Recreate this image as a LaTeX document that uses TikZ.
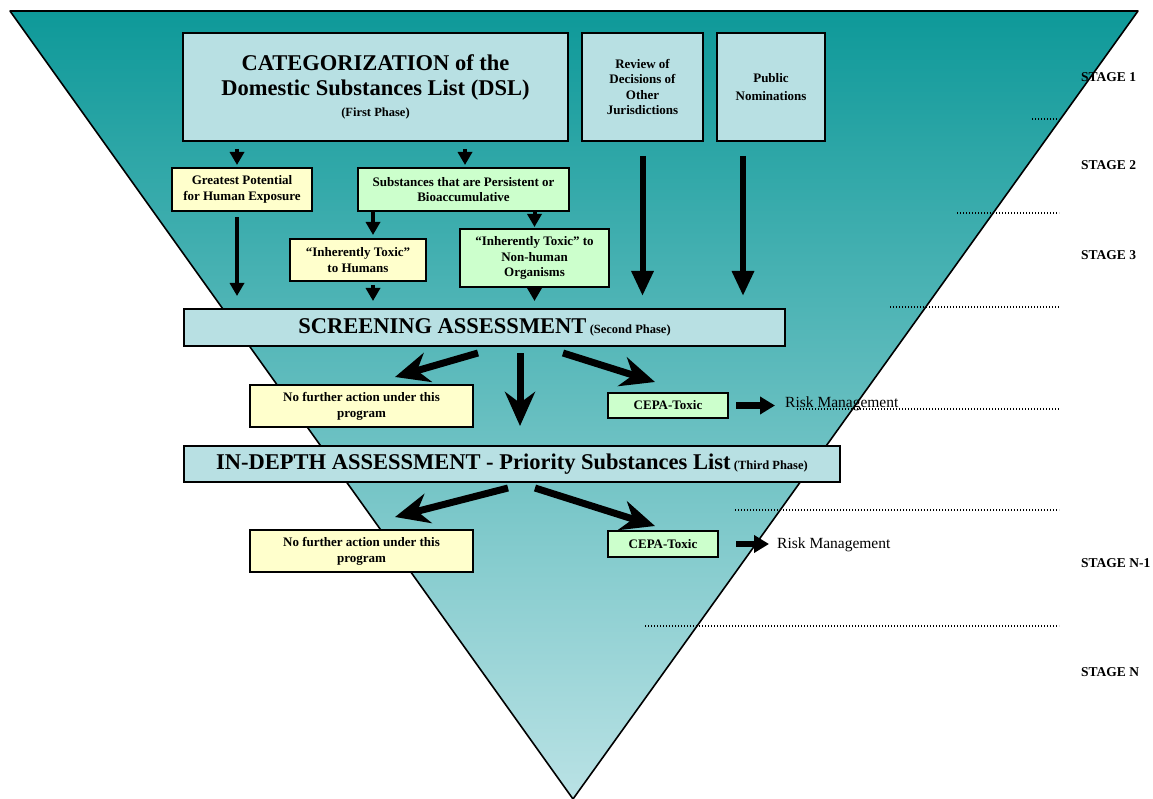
\documentclass[tikz,border=0pt]{standalone}
\usepackage{fontspec}
\setmainfont{Liberation Serif}
\usetikzlibrary{arrows.meta}
\definecolor{funneltop}{HTML}{0E9999}
\definecolor{funnelbot}{HTML}{BAE2E5}
\definecolor{boxblue}{HTML}{B8E0E3}
\definecolor{boxyellow}{HTML}{FFFFCC}
\definecolor{boxgreen}{HTML}{CCFFCC}
\newcommand\headfont{\fontsize{22.5}{25}\selectfont}
\newcommand\boxfont{\fontsize{13}{15.5}\selectfont}
\newcommand\phasefont{\fontsize{12.5}{14}\selectfont}
\newcommand\stagefont{\fontsize{13.5}{15}\selectfont}
\newcommand\riskfont{\fontsize{15.5}{18}\selectfont}
\tikzset{
    box/.style={draw, line width=2pt, align=center, inner sep=1pt, font=\boxfont\bfseries},
    bluebox/.style={box, fill=boxblue},
    yellowbox/.style={box, fill=boxyellow},
    greenbox/.style={box, fill=boxgreen},
    thinarrow/.style={line width=4pt, -{Triangle[width=14pt,length=13pt]}},
    longarrow/.style={line width=6pt, -{Triangle[width=21pt,length=25pt]}},
    fatarrow/.style={line width=7pt, -{Stealth[width=30pt,length=34pt,inset=11pt]}},
    riskarrow/.style={line width=6.5pt, -{Triangle[width=17pt,length=15pt]}},
    sepline/.style={line width=1.3pt, dash pattern=on 1.2pt off 1.8pt},
    stagelabel/.style={anchor=west, inner sep=0pt, font=\stagefont\bfseries},
    risklabel/.style={anchor=west, inner sep=0pt, font=\riskfont}
}
\begin{document}
\begin{tikzpicture}[x=1pt,y=-1pt]
    \useasboundingbox (0,0) rectangle (1153,799);
    \shade[top color=funneltop, bottom color=funnelbot] (10,11) -- (1138,11) -- (573,799) -- cycle;
    \draw[line width=1.6pt, line join=round] (10,11) -- (1138,11) -- (573,799) -- cycle;

    \foreach \y/\a in {119/1032, 213/957, 307/890, 409/797, 510/735, 626/645}
        \draw[sepline] (\a,\y) -- (1059,\y);

    \node[stagelabel] (st1) at (1081,77) {STAGE 1};
    \node[stagelabel] (st2) at (1081,165) {STAGE 2};
    \node[stagelabel] (st3) at (1081,255) {STAGE 3};
    \node[stagelabel] (stn1) at (1081,563) {STAGE N-1};
    \node[stagelabel] (stn) at (1081,672) {STAGE N};

    \node[bluebox, minimum width=385pt, minimum height=108pt, font=\headfont\bfseries] (dsl) at (375.5,87)
        {CATEGORIZATION of the\\Domestic Substances List (DSL)\\[-4pt]{\phasefont (First Phase)}};
    \node[bluebox, minimum width=121pt, minimum height=108pt] (review) at (642.5,87)
        {Review of\\Decisions of\\Other\\Jurisdictions};
    \node[bluebox, minimum width=108pt, minimum height=108pt] (public) at (771,87)
        {Public\\[2pt]Nominations};

    \node[yellowbox, minimum width=140pt, minimum height=43pt] (exposure) at (242,189.5)
        {Greatest Potential\\for Human Exposure};
    \node[greenbox, minimum width=211pt, minimum height=43pt] (persist) at (463.5,189.5)
        {Substances that are Persistent or\\Bioaccumulative};
    \node[yellowbox, minimum width=136pt, minimum height=42pt] (humans) at (358,260)
        {``Inherently Toxic''\\to Humans};
    \node[greenbox, minimum width=149pt, minimum height=58pt] (nonhuman) at (534.5,258)
        {``Inherently Toxic'' to\\Non-human\\Organisms};

    \node[bluebox, minimum width=601pt, minimum height=37pt] (screen) at (484.5,327.5)
        {{\headfont SCREENING ASSESSMENT} {\phasefont (Second Phase)}};
    \node[yellowbox, minimum width=223pt, minimum height=42pt, font=\fontsize{13}{16}\selectfont\bfseries] (nfa1) at (361.5,406)
        {No further action under this\\program};
    \node[greenbox, minimum width=120pt, minimum height=25pt] (toxic1) at (668,405.5)
        {CEPA-Toxic};
    \node[risklabel] (risk1) at (785,404) {Risk Management};

    \node[bluebox, minimum width=656pt, minimum height=36pt] (indepth) at (512,464)
        {{\headfont IN-DEPTH ASSESSMENT - Priority Substances List} {\phasefont (Third Phase)}};
    \node[yellowbox, minimum width=223pt, minimum height=42pt, font=\fontsize{13}{16}\selectfont\bfseries] (nfa2) at (361.5,551)
        {No further action under this\\program};
    \node[greenbox, minimum width=110pt, minimum height=26pt] (toxic2) at (663,544)
        {CEPA-Toxic};
    \node[risklabel] (risk2) at (777,545) {Risk Management};

    \draw[thinarrow, shorten <=7pt, shorten >=2pt] ([xshift=-5pt]exposure.north |- dsl.south) -- ([xshift=-5pt]exposure.north);
    \draw[thinarrow, shorten <=7pt, shorten >=2pt] ([xshift=1.5pt]persist.north |- dsl.south) -- ([xshift=1.5pt]persist.north);
    \draw[thinarrow, shorten <=5pt, shorten >=12pt] ([xshift=-5pt]exposure.south) -- ([xshift=-5pt]exposure.south |- screen.north);
    \draw[thinarrow, shorten >=3pt] ([xshift=15pt]humans.north |- persist.south) -- ([xshift=15pt]humans.north);
    \draw[thinarrow, shorten >=1pt] (nonhuman.north |- persist.south) -- (nonhuman.north);
    \draw[thinarrow, shorten <=3pt, shorten >=7pt] ([xshift=15pt]humans.south) -- ([xshift=15pt]humans.south |- screen.north);
    \draw[thinarrow, shorten <=1pt, shorten >=7pt] (nonhuman.south) -- (nonhuman.south |- screen.north);
    \draw[longarrow, shorten <=14pt, shorten >=12pt] (review.south) -- (review.south |- screen.north);
    \draw[longarrow, shorten <=14pt, shorten >=12pt] ([xshift=-28pt]public.south) -- ([xshift=-28pt]public.south |- screen.north);

    \draw[fatarrow] ([xshift=-6.5pt,yshift=-6pt]screen.south) -- ([xshift=33.5pt,yshift=7pt]nfa1.north);
    \draw[fatarrow, shorten <=6pt, shorten >=19pt] ([xshift=35.5pt]screen.south) -- ([xshift=35.5pt]screen.south |- indepth.north);
    \draw[fatarrow] ([xshift=78.5pt,yshift=-6pt]screen.south) -- ([xshift=-13pt,yshift=10pt]toxic1.north);
    \draw[riskarrow, shorten <=7pt, shorten >=10pt] (toxic1.east) -- (toxic1.east -| risk1.west);

    \draw[fatarrow] ([xshift=-4pt,yshift=-5pt]indepth.south) -- ([xshift=33.5pt,yshift=12pt]nfa2.north);
    \draw[fatarrow] ([xshift=23pt,yshift=-5pt]indepth.south) -- ([xshift=-8pt,yshift=4pt]toxic2.north);
    \draw[riskarrow, shorten <=17pt, shorten >=8pt] (toxic2.east) -- (toxic2.east -| risk2.west);
\end{tikzpicture}
\end{document}
